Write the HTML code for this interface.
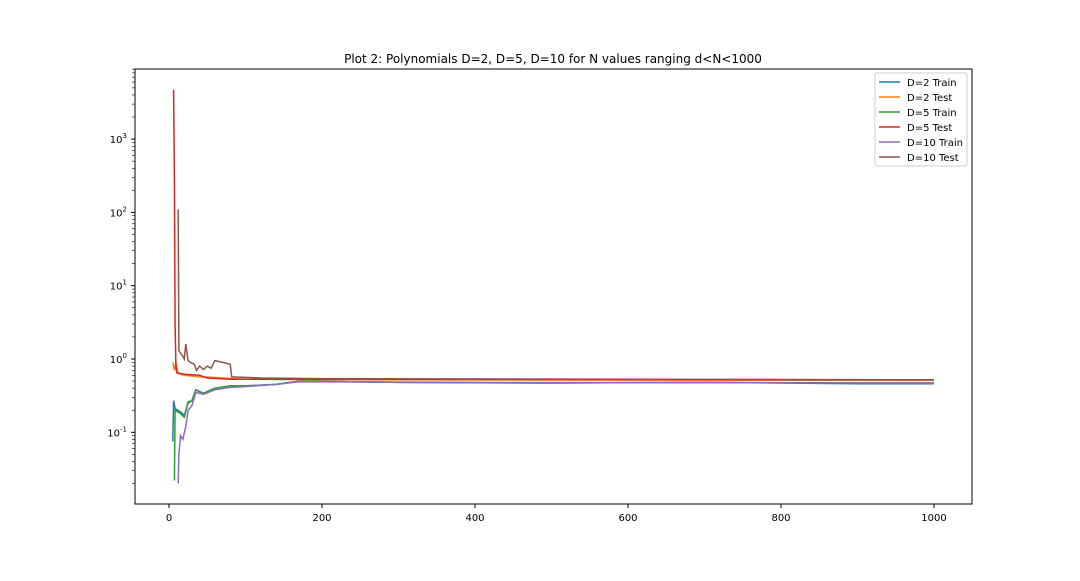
<!DOCTYPE html>
<html><head><meta charset="utf-8"><style>
body{margin:0;background:#fff;font-family:"Liberation Sans","DejaVu Sans",sans-serif}
</style></head><body>
<svg id="chart" width="1080" height="576" xmlns="http://www.w3.org/2000/svg" font-family="DejaVu Sans, Liberation Sans, sans-serif">
<rect width="1080" height="576" fill="#fff"/>
<text x="553" y="63" font-size="12" text-anchor="middle">Plot 2: Polynomials D=2, D=5, D=10 for N values ranging d&lt;N&lt;1000</text>
<g id="plot"></g>
<rect x="135" y="69" width="837" height="435" fill="none" stroke="#000" stroke-width="1"/>
<g id="axes"></g>
<g id="legend"></g>
</svg>
<script>
const seriesNames=["D=2 Train","D=2 Test","D=5 Train","D=5 Test","D=10 Train","D=10 Test"];
const colors=["#1f77b4","#ff7f0e","#2ca02c","#d62728","#9467bd","#8c564b"];
const xTicks=[0,200,400,600,800,1000];
const yTickExps=[-1,0,1,2,3];
const d2TrainN=[5,6,8,15,20,25,30,35,45,60,80,100,140,170,300,500,700,900,1000];
const d2TrainV=[0.075,0.27,0.21,0.19,0.17,0.25,0.27,0.38,0.34,0.40,0.43,0.43,0.45,0.50,0.48,0.47,0.48,0.46,0.46];
const d2TestN=[5,7,9,12,20,40,60,100,200,1000];
const d2TestV=[0.9,0.7,0.9,0.63,0.6,0.57,0.56,0.53,0.52,0.51];
const d5TrainN=[7,8,15,20,25,30,35,45,60,80,100,140,170,300,500,700,900,1000];
const d5TrainV=[0.022,0.2,0.18,0.16,0.26,0.27,0.38,0.34,0.40,0.43,0.43,0.45,0.50,0.48,0.47,0.48,0.47,0.47];
const d5TestN=[6,7,8,9,10,20,40,50,80,200,1000];
const d5TestV=[4700,300,3,0.8,0.65,0.62,0.6,0.55,0.53,0.53,0.52];
const d10TrainN=[12,13,15,18,22,25,30,35,45,60,80,100,140,170,400,1000];
const d10TrainV=[0.02,0.05,0.09,0.08,0.12,0.2,0.23,0.35,0.33,0.38,0.41,0.42,0.45,0.49,0.48,0.47];
const d10TestN=[12,13,15,18,20,22,25,28,33,36,40,45,50,55,60,70,80,82,120,200,1000];
const d10TestV=[110,1.3,1.2,1.1,1.0,1.6,0.95,0.9,0.85,0.7,0.8,0.72,0.8,0.75,0.95,0.9,0.85,0.57,0.55,0.54,0.52];
const allN=[d2TrainN,d2TestN,d5TrainN,d5TestN,d10TrainN,d10TestN];
const allV=[d2TrainV,d2TestV,d5TrainV,d5TestV,d10TrainV,d10TestV];

const X=n=>169+n*0.765;
const Y=v=>359-Math.log10(v)*73.3;
const NS="http://www.w3.org/2000/svg";
function mk(t,a,p){const e=document.createElementNS(NS,t);for(const k in a)e.setAttribute(k,a[k]);p.appendChild(e);return e;}
const plot=document.getElementById('plot'),axes=document.getElementById('axes'),leg=document.getElementById('legend');
allN.forEach((ns,i)=>{
  const pts=ns.map((n,j)=>X(n).toFixed(1)+","+Y(allV[i][j]).toFixed(1)).join(" ");
  const l=mk('polyline',{points:pts,fill:"none",stroke:colors[i],"stroke-width":1.5},plot);
  
  
});
xTicks.forEach(t=>{
  const x=X(t);
  const l=mk('line',{x1:x,x2:x,y1:504,y2:508,stroke:"#000"},axes);
  
  
  const tx=mk('text',{x:x,y:521,"font-size":10,"text-anchor":"middle"},axes);
  tx.textContent=t;
  
  
});
for(let e=-2;e<=3;e++){for(let m=2;m<=9;m++){const y=Y(m*Math.pow(10,e));if(y>69&&y<504){const l=mk('line',{x1:132,x2:135,y1:y,y2:y,stroke:"#000","stroke-width":0.6},axes);
  
  }}}
yTickExps.forEach(e=>{
  const y=Y(Math.pow(10,e));
  const l=mk('line',{x1:131,x2:135,y1:y,y2:y,stroke:"#000"},axes);
  
  
  const tx=mk('text',{x:127,y:y+4,"font-size":10,"text-anchor":"end"},axes);
  tx.innerHTML='10<tspan dy="-5" font-size="7">'+e+'</tspan>';
  
  
});
const box=mk('rect',{x:875,y:73,width:92,height:93,fill:"#fff",stroke:"#ccc",rx:2},leg);


seriesNames.forEach((s,i)=>{
  const y=82+i*15;
  const l=mk('line',{x1:879,x2:900,y1:y,y2:y,stroke:colors[i],"stroke-width":1.5},leg);
  
  
  const tx=mk('text',{x:907,y:y+4,"font-size":10},leg);
  tx.textContent=s;
  
  
});
</script>
</body></html>
